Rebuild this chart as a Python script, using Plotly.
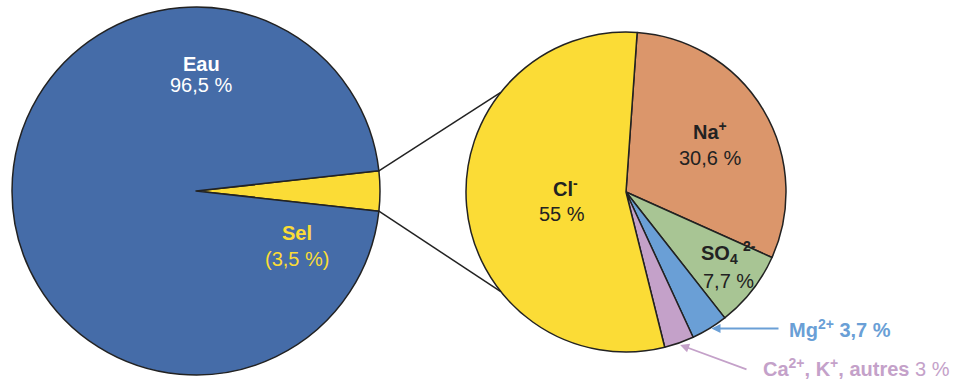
import math
import plotly.graph_objects as go

W, H = 966, 384
FONT = "Liberation Sans, Arial, Helvetica, sans-serif"

# Eau de mer : eau / sel (%)
mer_labels = ["Sel", "Eau"]
mer_values = [3.5, 96.5]
mer_colors = ["#FBDC36", "#456CA8"]

# Composition du sel (%)
sel_labels = ["Na+", "SO4 2-", "Mg2+", "Ca2+, K+, autres", "Cl-"]
sel_values = [30.6, 7.7, 3.7, 3.0, 55.0]
sel_colors = ["#DB966B", "#A8C594", "#6A9FD6", "#C4A1C9", "#FBDC36"]

# pie placement in pixels: centre x, centre y, radius
L_CX, L_CY, L_R = 196, 191, 184
R_CX, R_CY, R_R = 626, 192, 160
R_ROT = 4.0


def px(x):
    return x / W


def py(y):
    return 1 - y / H


def domain(cx, cy, r):
    return dict(x=[px(cx - r), px(cx + r)], y=[py(cy + r), py(cy - r)])


def on_circle(cx, cy, r, ang):
    a = math.radians(ang)
    return cx + r * math.sin(a), cy - r * math.cos(a)


# "Sel" slice centred on the 3 o'clock direction
sel_half = mer_values[0] / sum(mer_values) * 360 / 2
l_rot = 90 - sel_half

fig = go.Figure()
fig.add_trace(go.Pie(
    labels=mer_labels, values=mer_values, sort=False, direction="clockwise",
    rotation=l_rot, textinfo="none", hoverinfo="none", showlegend=False,
    marker=dict(colors=mer_colors, line=dict(color="#222222", width=1.5)),
    domain=domain(L_CX, L_CY, L_R),
))
fig.add_trace(go.Pie(
    labels=sel_labels, values=sel_values, sort=False, direction="clockwise",
    rotation=R_ROT, textinfo="none", hoverinfo="none", showlegend=False,
    marker=dict(colors=sel_colors, line=dict(color="#222222", width=1.5)),
    domain=domain(R_CX, R_CY, R_R),
))

# connector lines from the "Sel" slice to the detail pie
shapes = []
for a_left, a_right in [(90 - sel_half, 308.5), (90 + sel_half, 231.5)]:
    x0, y0 = on_circle(L_CX, L_CY, L_R, a_left)
    x1, y1 = on_circle(R_CX, R_CY, R_R, a_right)
    shapes.append(dict(type="line", xref="paper", yref="paper",
                       x0=px(x0), y0=py(y0), x1=px(x1), y1=py(y1),
                       line=dict(color="#222222", width=1.5)))

ann = []


def label(x, y, text, color, size=20, xanchor="center"):
    ann.append(dict(x=px(x), y=py(y), xref="paper", yref="paper", text=text,
                    showarrow=False, xanchor=xanchor, yanchor="middle",
                    font=dict(family=FONT, size=size, color=color)))


total = sum(sel_values)
# centre angle of each slice of the detail pie
mids = []
acc = R_ROT
for v in sel_values:
    span = v / total * 360
    mids.append(acc + span / 2)
    acc += span

label(201, 64, "<b>Eau</b>", "white")
label(201, 85, "96,5 %", "white")
label(297, 233, "<b>Sel</b>", "#FBDC36")
label(297, 259, "(3,5 %)", "#FBDC36")

label(710, 131, "<b>Na<sup>+</sup></b>", "#222222")
label(710, 158, "30,6 %", "#222222")
label(565, 187, "<b>Cl<sup>-</sup></b>", "#222222")
label(562, 214, "55 %", "#222222")
label(719, 254, "<b>SO<sub>4</sub></b>", "#222222")
label(749, 246, "<b>2-</b>", "#222222", size=14)
label(728, 281, "7,7 %", "#222222")

# arrows pointing at the two small slices
mg_x, mg_y = on_circle(R_CX, R_CY, R_R, mids[2])
ca_x, ca_y = on_circle(R_CX, R_CY, R_R, mids[3])
ann.append(dict(x=px(mg_x + 2), y=py(mg_y), xref="paper", yref="paper", text="",
                showarrow=True, ax=780 - (mg_x + 2), ay=0, arrowhead=2,
                arrowsize=1, arrowwidth=1.8, arrowcolor="#6A9FD6"))
ann.append(dict(x=px(ca_x + 1), y=py(ca_y + 2), xref="paper", yref="paper", text="",
                showarrow=True, ax=748 - (ca_x + 1), ay=370 - (ca_y + 2), arrowhead=2,
                arrowsize=1, arrowwidth=1.8, arrowcolor="#C4A1C9"))

label(787, 328, "<b>Mg<sup>2+</sup> 3,7 %</b>", "#6A9FD6", xanchor="left")
label(761, 367, "<b>Ca<sup>2+</sup>, K<sup>+</sup>, autres</b> 3 %", "#C4A1C9", xanchor="left")

fig.update_layout(
    width=W, height=H, margin=dict(l=0, r=0, t=0, b=0),
    paper_bgcolor="white", plot_bgcolor="white",
    shapes=shapes, annotations=ann, font=dict(family=FONT),
)

fig.write_html("out.html")
